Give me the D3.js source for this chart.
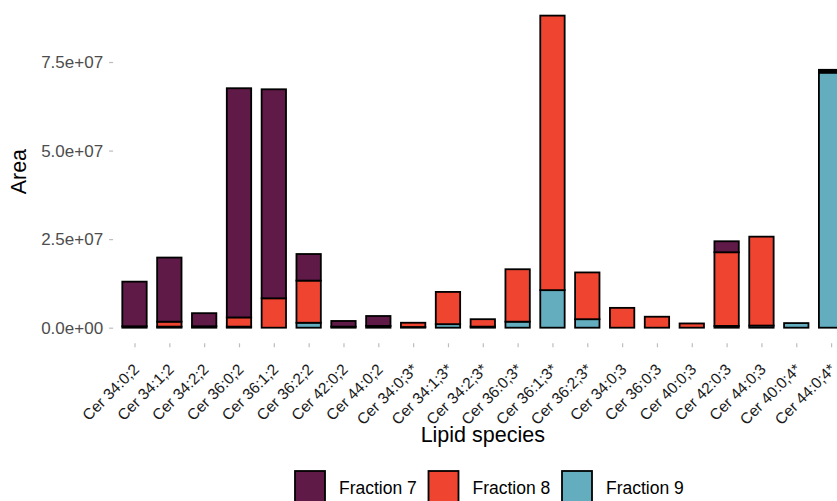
<!DOCTYPE html>
<html>
<head>
<meta charset="utf-8">
<script src="https://cdn.jsdelivr.net/npm/d3@7"></script>
<style>
  html, body { margin: 0; padding: 0; background: #fff; overflow: hidden; }
  svg { display: block; font-family: "Liberation Sans", Arial, Helvetica, sans-serif; }
</style>
</head>
<body>
<svg id="chart" width="837" height="501"></svg>
<script>
// Lipid species on the x axis
const categories = [
  "Cer 34:0;2", "Cer 34:1;2", "Cer 34:2;2", "Cer 36:0;2", "Cer 36:1;2", "Cer 36:2;2",
  "Cer 42:0;2", "Cer 44:0;2", "Cer 34:0;3*", "Cer 34:1;3*", "Cer 34:2;3*", "Cer 36:0;3*",
  "Cer 36:1;3*", "Cer 36:2;3*", "Cer 34:0;3", "Cer 36:0;3", "Cer 40:0;3", "Cer 42:0;3",
  "Cer 44:0;3", "Cer 40:0;4*", "Cer 44:0;4*"
];

// Peak areas per fraction (units of 1e7)
const fraction7 = [1.26, 1.81, 0.37, 6.47, 5.90, 0.75, 0.16, 0.28, 0, 0, 0, 0,
                   0, 0, 0, 0, 0, 0.31, 0, 0, 0.04];
const fraction8 = [0.04, 0.14, 0.04, 0.26, 0.83, 1.19, 0.03, 0.05, 0.12, 0.91, 0.21, 1.48,
                   7.75, 1.32, 0.56, 0.31, 0.12, 2.08, 2.51, 0, 0.04];
const fraction9 = [0, 0.03, 0, 0.03, 0, 0.14, 0, 0, 0.02, 0.10, 0.03, 0.17,
                   1.06, 0.24, 0, 0, 0, 0.05, 0.06, 0.13, 7.20];

const seriesNames = ["Fraction 7", "Fraction 8", "Fraction 9"];
const seriesColors = ["#5f1a48", "#ef4430", "#63adbe"];
const yTicks = [0, 2.5e7, 5e7, 7.5e7];
const yTickLabels = ["0.0e+00", "2.5e+07", "5.0e+07", "7.5e+07"];

const rows = categories.map((c, i) => ({
  species: c,
  "Fraction 7": fraction7[i] * 1e7,
  "Fraction 8": fraction8[i] * 1e7,
  "Fraction 9": fraction9[i] * 1e7
}));

// Fraction 9 sits at the bottom, Fraction 7 on top
const stackOrder = ["Fraction 9", "Fraction 8", "Fraction 7"];
const stacked = d3.stack().keys(stackOrder)(rows);

const svg = d3.select("#chart");
const panel = { left: 113.6, right: 852, top: 0, bottom: 343.3 };

const x = d3.scalePoint().domain(categories).range([panel.left, panel.right]).padding(0.6);
const yMax = d3.max(rows, r => r["Fraction 7"] + r["Fraction 8"] + r["Fraction 9"]);
const y = d3.scaleLinear()
  .domain([-0.05 * yMax, 1.05 * yMax])
  .range([panel.bottom, panel.top]);
const color = d3.scaleOrdinal().domain(seriesNames).range(seriesColors);

const barW = x.step() * 0.7;

// Bars
svg.append("g").selectAll("g")
  .data(stacked)
  .join("g")
  .attr("fill", d => color(d.key))
  .selectAll("rect")
  .data(d => d.filter(s => s[1] - s[0] > 0))
  .join("rect")
  .attr("x", d => x(d.data.species) - barW / 2)
  .attr("width", barW)
  .attr("y", d => y(d[1]))
  .attr("height", d => y(d[0]) - y(d[1]))
  .attr("stroke", "#000")
  .attr("stroke-width", 1.8);

// Y axis
const yAxis = d3.axisLeft(y).tickValues(yTicks)
  .tickFormat((d, i) => yTickLabels[i]).tickSize(4).tickPadding(6);
const gy = svg.append("g").attr("transform", `translate(${panel.left - 0.5},0)`).call(yAxis);
gy.attr("font-family", null).attr("font-size", null);
gy.select(".domain").remove();
gy.selectAll(".tick line").attr("stroke", "#bdbdbd").attr("stroke-width", 1.2);
gy.selectAll(".tick text").attr("fill", "#4d4d4d").attr("font-size", 17);

// X axis
const xAxis = d3.axisBottom(x).tickSize(4).tickPadding(0);
const gx = svg.append("g").attr("transform", `translate(0,${panel.bottom})`).call(xAxis);
gx.attr("font-family", null).attr("font-size", null);
gx.select(".domain").remove();
gx.selectAll(".tick line").attr("stroke", "#bdbdbd").attr("stroke-width", 1.2);
gx.selectAll(".tick text")
  .attr("fill", "#1a1a1a")
  .attr("font-size", 15.5)
  .attr("text-anchor", "end")
  .attr("dy", 0)
  .attr("y", 0)
  .attr("transform", "translate(5,27) rotate(-45)");

// Axis titles
svg.append("text")
  .attr("transform", `translate(26,${(panel.top + panel.bottom) / 2}) rotate(-90)`)
  .attr("text-anchor", "middle")
  .attr("font-size", 21.5)
  .attr("fill", "#000")
  .text("Area");

svg.append("text")
  .attr("x", (panel.left + panel.right) / 2)
  .attr("y", 442)
  .attr("text-anchor", "middle")
  .attr("font-size", 21.5)
  .attr("fill", "#000")
  .text("Lipid species");

// Legend
const legendX = [294, 427.5, 561];
const legend = svg.append("g").selectAll("g")
  .data(seriesNames)
  .join("g")
  .attr("transform", (d, i) => `translate(${legendX[i]},470)`);
legend.append("rect")
  .attr("x", 1).attr("y", 1)
  .attr("width", 30).attr("height", 31)
  .attr("fill", d => color(d))
  .attr("stroke", "#000")
  .attr("stroke-width", 1.8);
legend.append("text")
  .attr("x", 45)
  .attr("y", 24)
  .attr("font-size", 17.5)
  .attr("fill", "#000")
  .text(d => d);
</script>
</body>
</html>
